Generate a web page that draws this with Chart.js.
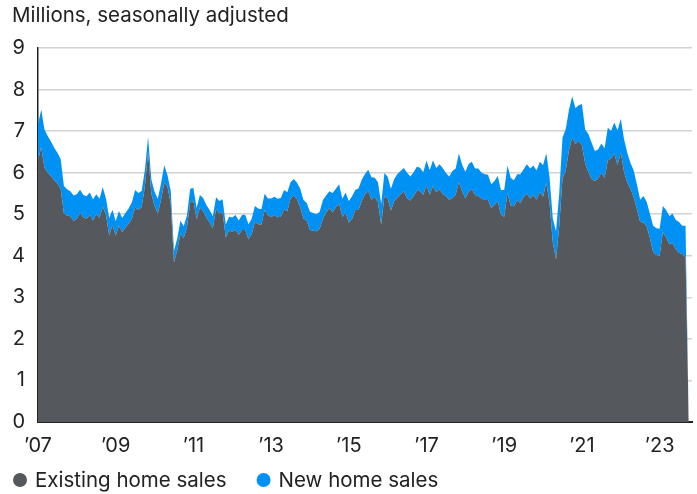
<!DOCTYPE html>
<html lang="en">
<head>
  <meta charset="UTF-8" />
  <title>Home sales</title>
  <script src="https://cdn.jsdelivr.net/npm/chart.js"></script>
  <style>
    html, body { margin: 0; padding: 0; background: #fff; }
    #wrap { width: 697px; height: 494px; }
  </style>
</head>
<body>
<div id="wrap"><canvas id="salesChart"></canvas></div>
<script>
  const startYear = 2007;
  const tickLabels = ['’07', '’09', '’11', '’13', '’15', '’17', '’19', '’21', '’23'];
  const seriesNames = ['Existing home sales', 'New home sales'];
  const seriesColors = ['#55595d', '#0091f5'];
  const textColor = '#222';
  const fontFamily = 'Inter, "Liberation Sans", sans-serif';

  // millions, monthly, Jan 2007 .. Oct 2023
  const existingSales = [
    6.30, 6.62, 6.12, 6.00, 5.92, 5.82, 5.74, 5.62, 5.02, 4.97, 4.95, 4.84, // 2007
    4.89, 5.03, 4.93, 4.89, 4.99, 4.85, 5.00, 4.91, 5.18, 4.98, 4.49, 4.74, // 2008
    4.49, 4.72, 4.57, 4.68, 4.77, 4.89, 5.16, 5.10, 5.17, 5.66, 6.50, 5.50, // 2009
    5.20, 5.02, 5.35, 5.76, 5.66, 5.26, 3.84, 4.13, 4.53, 4.43, 4.68, 5.28, // 2010
    5.32, 4.88, 5.16, 5.08, 4.92, 4.80, 4.66, 5.12, 5.02, 5.05, 4.44, 4.61, // 2011
    4.58, 4.62, 4.50, 4.62, 4.62, 4.40, 4.52, 4.82, 4.76, 4.75, 5.10, 4.98, // 2012
    4.93, 4.98, 4.93, 4.94, 5.12, 5.07, 5.38, 5.45, 5.36, 5.17, 4.90, 4.84, // 2013
    4.62, 4.60, 4.59, 4.65, 4.89, 5.04, 5.15, 5.05, 5.17, 5.26, 4.93, 5.04, // 2014
    4.80, 4.89, 5.10, 5.10, 5.32, 5.48, 5.55, 5.35, 5.42, 5.28, 4.75, 5.44, // 2015
    5.38, 5.09, 5.31, 5.40, 5.48, 5.55, 5.38, 5.33, 5.44, 5.57, 5.55, 5.47, // 2016
    5.69, 5.47, 5.68, 5.53, 5.60, 5.49, 5.43, 5.35, 5.39, 5.47, 5.77, 5.55, // 2017
    5.38, 5.54, 5.60, 5.46, 5.43, 5.38, 5.34, 5.34, 5.15, 5.22, 5.32, 4.99, // 2018
    4.94, 5.51, 5.21, 5.19, 5.34, 5.27, 5.42, 5.49, 5.38, 5.46, 5.35, 5.54, // 2019
    5.42, 5.76, 5.27, 4.33, 3.91, 4.72, 5.86, 6.05, 6.54, 6.85, 6.69, 6.76, // 2020
    6.66, 6.22, 6.01, 5.85, 5.80, 5.86, 5.99, 5.88, 6.29, 6.34, 6.46, 6.18, // 2021
    6.49, 6.02, 5.77, 5.61, 5.41, 5.12, 4.81, 4.80, 4.71, 4.43, 4.09, 4.02, // 2022
    4.00, 4.58, 4.44, 4.28, 4.30, 4.16, 4.07, 4.04, 3.96, 0                 // 2023
  ];

  const newSales = [
    0.86, 0.90, 0.92, 0.88, 0.83, 0.78, 0.74, 0.71, 0.66, 0.63, 0.60, 0.61, // 2007
    0.59, 0.56, 0.53, 0.54, 0.53, 0.51, 0.48, 0.46, 0.47, 0.40, 0.42, 0.37, // 2008
    0.34, 0.36, 0.34, 0.35, 0.37, 0.40, 0.42, 0.41, 0.39, 0.40, 0.36, 0.34, // 2009
    0.34, 0.35, 0.39, 0.42, 0.28, 0.30, 0.28, 0.28, 0.31, 0.28, 0.29, 0.33, // 2010
    0.31, 0.27, 0.30, 0.31, 0.30, 0.30, 0.29, 0.29, 0.30, 0.31, 0.31, 0.33, // 2011
    0.34, 0.36, 0.35, 0.36, 0.37, 0.36, 0.37, 0.38, 0.38, 0.37, 0.39, 0.40, // 2012
    0.45, 0.44, 0.44, 0.45, 0.46, 0.46, 0.39, 0.40, 0.40, 0.44, 0.44, 0.43, // 2013
    0.44, 0.43, 0.41, 0.41, 0.45, 0.41, 0.40, 0.46, 0.44, 0.46, 0.44, 0.48, // 2014
    0.52, 0.54, 0.48, 0.52, 0.51, 0.49, 0.52, 0.54, 0.46, 0.49, 0.50, 0.55, // 2015
    0.52, 0.52, 0.53, 0.57, 0.56, 0.56, 0.62, 0.58, 0.57, 0.57, 0.57, 0.54, // 2016
    0.60, 0.59, 0.62, 0.58, 0.60, 0.62, 0.56, 0.56, 0.65, 0.63, 0.69, 0.64, // 2017
    0.64, 0.67, 0.66, 0.64, 0.67, 0.62, 0.62, 0.61, 0.57, 0.58, 0.60, 0.59, // 2018
    0.64, 0.66, 0.67, 0.63, 0.62, 0.69, 0.66, 0.71, 0.72, 0.71, 0.70, 0.72, // 2019
    0.76, 0.71, 0.62, 0.57, 0.68, 0.79, 0.98, 1.00, 0.97, 0.99, 0.86, 0.86, // 2020
    0.99, 0.82, 0.92, 0.87, 0.72, 0.70, 0.71, 0.71, 0.79, 0.66, 0.75, 0.84, // 2021
    0.81, 0.79, 0.71, 0.62, 0.64, 0.59, 0.54, 0.64, 0.59, 0.58, 0.63, 0.64, // 2022
    0.65, 0.62, 0.66, 0.68, 0.71, 0.70, 0.74, 0.68, 0.76, 0                 // 2023
  ];

  // one label per month, plus one empty month so the axis runs past the last point
  const months = [];
  for (let i = 0; i <= existingSales.length; i++) {
    const yr = startYear + Math.floor(i / 12);
    months.push(yr + '-' + String(i % 12 + 1).padStart(2, '0'));
  }

  // legend drawn under the axis: dot + label, left to right
  const bottomLegend = {
    id: 'bottomLegend',
    afterDraw(chart) {
      const ctx = chart.ctx;
      const r = 7, y = 480;
      let x = 13;
      ctx.save();
      ctx.font = '20.5px ' + fontFamily;
      ctx.textBaseline = 'middle';
      chart.data.datasets.forEach(ds => {
        ctx.fillStyle = ds.backgroundColor;
        ctx.beginPath();
        ctx.arc(x + r, y, r, 0, Math.PI * 2);
        ctx.fill();
        ctx.fillStyle = textColor;
        ctx.fillText(ds.label, x + 2 * r + 8, y + 1);
        x += 2 * r + 8 + ctx.measureText(ds.label).width + 30;
      });
      ctx.restore();
    }
  };

  const ctx = document.getElementById('salesChart').getContext('2d');
  new Chart(ctx, {
    type: 'line',
    data: {
      labels: months,
      datasets: [
        {
          label: seriesNames[0],
          data: existingSales,
          backgroundColor: seriesColors[0],
          borderColor: seriesColors[0],
          borderWidth: 0,
          pointRadius: 0,
          fill: 'origin',
          tension: 0
        },
        {
          label: seriesNames[1],
          data: newSales,
          backgroundColor: seriesColors[1],
          borderColor: seriesColors[1],
          borderWidth: 0,
          pointRadius: 0,
          fill: '-1',
          tension: 0
        }
      ]
    },
    options: {
      responsive: true,
      maintainAspectRatio: false,
      animation: false,
      layout: { padding: { left: 12, right: 5, top: 0, bottom: 36 } },
      plugins: {
        legend: { display: false },
        tooltip: { enabled: false },
        title: {
          display: true,
          text: 'Millions, seasonally adjusted',
          align: 'start',
          color: textColor,
          font: { family: fontFamily, size: 20.5, weight: 'normal', lineHeight: 1.2 },
          padding: { top: 4, bottom: 19.4 }
        }
      },
      scales: {
        x: {
          type: 'category',
          offset: false,
          grid: { display: false, drawTicks: false },
          border: { display: true, color: '#222', width: 2 },
          ticks: {
            autoSkip: false,
            maxRotation: 0,
            padding: 12,
            color: textColor,
            font: { family: fontFamily, size: 20 },
            callback: (val, i) => (i % 24 === 0 ? tickLabels[i / 24] : null)
          },
          afterFit: s => { s.height = 36; }
        },
        y: {
          stacked: true,
          min: 0,
          max: 9,
          grid: { color: '#d2d2d2', lineWidth: 1.5, drawTicks: false },
          border: { display: true, color: '#222', width: 1.5 },
          ticks: {
            stepSize: 1,
            padding: 13,
            color: textColor,
            font: { family: fontFamily, size: 20 }
          },
          afterFit: s => { s.width = 26; }
        }
      }
    },
    plugins: [bottomLegend]
  });
</script>
</body>
</html>
